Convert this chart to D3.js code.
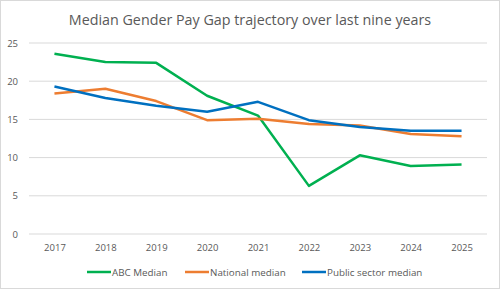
<!DOCTYPE html>
<html>
<head>
<meta charset="utf-8">
<script src="https://cdn.jsdelivr.net/npm/d3@7"></script>
<style>
    body { margin: 0; background: #fff; }
    svg { display: block; font-family: "Open Sans", sans-serif; }
</style>
</head>
<body>
<div id="chart"></div>
<script>
// data
const years = ["2017", "2018", "2019", "2020", "2021", "2022", "2023", "2024", "2025"];
const abcMedian = [23.6, 22.5, 22.4, 18.1, 15.5, 6.3, 10.3, 8.9, 9.1];
const nationalMedian = [18.4, 19.0, 17.4, 14.9, 15.1, 14.4, 14.2, 13.1, 12.8];
const publicMedian = [19.3, 17.8, 16.8, 16.0, 17.3, 14.9, 14.0, 13.5, 13.5];
const yTicks = [0, 5, 10, 15, 20, 25];

const series = [
    {name: "ABC Median", values: abcMedian, color: "#00b050"},
    {name: "National median", values: nationalMedian, color: "#ed7d31"},
    {name: "Public sector median", values: publicMedian, color: "#0070c0"}
];

const W = 500, H = 289;
const margin = {top: 43, right: 13, bottom: 55, left: 29};
const width = W - margin.left - margin.right;
const height = H - margin.top - margin.bottom;

const svg = d3.select("#chart").append("svg")
    .attr("width", W)
    .attr("height", H);

// chart border
svg.append("rect")
    .attr("x", 0.5).attr("y", 0.5)
    .attr("width", W - 1).attr("height", H - 1)
    .attr("fill", "#fff")
    .attr("stroke", "#d9d9d9");

svg.append("text")
    .attr("x", W / 2)
    .attr("y", 25)
    .attr("text-anchor", "middle")
    .attr("font-size", 14.3)
    .attr("fill", "#595959")
    .text("Median Gender Pay Gap trajectory over last nine years");

const g = svg.append("g")
    .attr("transform", `translate(${margin.left}, ${margin.top})`);

const x = d3.scalePoint()
    .domain(years)
    .range([0, width])
    .padding(0.5);

const y = d3.scaleLinear()
    .domain([0, 25])
    .range([height, 0]);

// gridlines
g.selectAll(".grid")
    .data(yTicks)
    .enter()
    .append("line")
    .attr("x1", 0)
    .attr("x2", width)
    .attr("y1", d => y(d))
    .attr("y2", d => y(d))
    .attr("stroke", "#d9d9d9")
    .attr("stroke-width", 1);

// y axis labels
const yAxis = g.append("g")
    .call(d3.axisLeft(y).tickValues(yTicks).tickSize(0).tickPadding(11));
yAxis.select(".domain").remove();
yAxis.selectAll("text")
    .attr("font-family", "Open Sans, sans-serif")
    .attr("font-size", 9.5)
    .attr("fill", "#595959");

// x axis labels
const xAxis = g.append("g")
    .attr("transform", `translate(0, ${height})`)
    .call(d3.axisBottom(x).tickSize(0).tickPadding(10));
xAxis.select(".domain").remove();
xAxis.selectAll("text")
    .attr("font-family", "Open Sans, sans-serif")
    .attr("font-size", 9.5)
    .attr("fill", "#595959");

const line = d3.line()
    .x((d, i) => x(years[i]))
    .y(d => y(d));

g.selectAll(".series")
    .data(series)
    .enter()
    .append("path")
    .attr("d", d => line(d.values))
    .attr("fill", "none")
    .attr("stroke", d => d.color)
    .attr("stroke-width", 2.5)
    .attr("stroke-linejoin", "round");

// legend
const legendX = [87, 185, 302];
const legend = svg.selectAll(".legend")
    .data(series)
    .enter()
    .append("g")
    .attr("transform", (d, i) => `translate(${legendX[i]}, 272)`);

legend.append("line")
    .attr("x1", 0).attr("x2", 24)
    .attr("y1", 0).attr("y2", 0)
    .attr("stroke", d => d.color)
    .attr("stroke-width", 2.5);

legend.append("text")
    .attr("x", 25)
    .attr("y", 3.5)
    .attr("font-size", 9.8)
    .attr("fill", "#595959")
    .text(d => d.name);
</script>
</body>
</html>
